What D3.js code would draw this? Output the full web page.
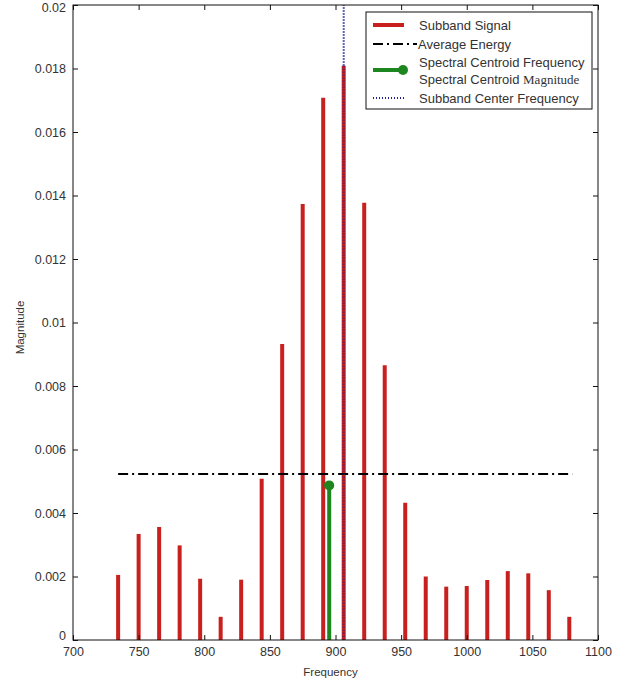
<!DOCTYPE html>
<html>
<head>
<meta charset="utf-8">
<script src="https://cdn.jsdelivr.net/npm/d3@7"></script>
<style>
  html, body { margin: 0; padding: 0; background: #fff; }
  svg { display: block; }
  text { font-family: "Liberation Sans", Arial, sans-serif; }
</style>
</head>
<body>
<script>
// ---- data ----
const frequencies = [734.375, 750, 765.625, 781.25, 796.875, 812.5, 828.125, 843.75, 859.375, 875, 890.625,
  906.25, 921.875, 937.5, 953.125, 968.75, 984.375, 1000, 1015.625, 1031.25, 1046.875, 1062.5, 1078.125];
const magnitudes = [0.00205, 0.00334, 0.00356, 0.00298, 0.00193, 0.00073, 0.0019, 0.00508, 0.00932, 0.01373, 0.01708,
  0.01809, 0.01377, 0.00865, 0.00432, 0.002, 0.00168, 0.0017, 0.00189, 0.00217, 0.0021, 0.00157, 0.00073];
const averageEnergy = 0.00523;
const centroidFrequency = 895.2;
const centroidMagnitude = 0.00487;
const centerFrequency = 906.25;
const xTicks = [700, 750, 800, 850, 900, 950, 1000, 1050, 1100];
const xTickLabels = ["700", "750", "800", "850", "900", "950", "1000", "1050", "1100"];
const yTicks = [0, 0.002, 0.004, 0.006, 0.008, 0.01, 0.012, 0.014, 0.016, 0.018, 0.02];
const yTickLabels = ["0", "0.002", "0.004", "0.006", "0.008", "0.01", "0.012", "0.014", "0.016", "0.018", "0.02"];
const legendLabels = ["Subband Signal", "Average Energy", "Spectral Centroid Frequency", "Spectral Centroid ", "Subband Center Frequency"];

// ---- layout ----
const W = 627, H = 684;
const L = 73, R = 598, T = 5, B = 640;
const svg = d3.select("body").append("svg").attr("width", W).attr("height", H);

const x = d3.scaleLinear().domain([700, 1100]).range([L, R]);
const y = d3.scaleLinear().domain([0, 0.02]).range([B, T]);

const red = "#c8201e", green = "#1e861e", navy = "#1c1c8c";
const tickColor = "#111", labelColor = "#333";

// bars (stems)
svg.append("g").selectAll("line").data(frequencies).join("line")
  .attr("x1", d => x(d)).attr("x2", d => x(d))
  .attr("y1", y(0)).attr("y2", (d, i) => y(magnitudes[i]))
  .attr("stroke", red).attr("stroke-width", 4);

// average energy line
svg.append("line")
  .attr("x1", x(frequencies[0])).attr("x2", x(frequencies[frequencies.length - 1]) + 3)
  .attr("y1", y(averageEnergy)).attr("y2", y(averageEnergy))
  .attr("stroke", "#000").attr("stroke-width", 2)
  .attr("stroke-dasharray", "10,4,2,4");

// subband center frequency (dotted): blended over the bar, solid navy above it
const centerIdx = frequencies.indexOf(centerFrequency);
const barTop = centerIdx >= 0 ? magnitudes[centerIdx] : 0;
svg.append("line")
  .attr("x1", x(centerFrequency)).attr("x2", x(centerFrequency))
  .attr("y1", y(0)).attr("y2", y(barTop))
  .attr("stroke", navy).attr("stroke-width", 2.5)
  .attr("stroke-dasharray", "1.5,1.5").attr("opacity", 0.45);
svg.append("line")
  .attr("x1", x(centerFrequency)).attr("x2", x(centerFrequency))
  .attr("y1", y(barTop)).attr("y2", y(0.02))
  .attr("stroke", navy).attr("stroke-width", 2)
  .attr("stroke-dasharray", "1.5,1.5").attr("opacity", 0.9);

// spectral centroid stem
svg.append("line")
  .attr("x1", x(centroidFrequency)).attr("x2", x(centroidFrequency))
  .attr("y1", y(0)).attr("y2", y(centroidMagnitude))
  .attr("stroke", green).attr("stroke-width", 4);
svg.append("circle")
  .attr("cx", x(centroidFrequency)).attr("cy", y(centroidMagnitude)).attr("r", 5)
  .attr("fill", green);

// frame
svg.append("rect").attr("x", L).attr("y", T).attr("width", R - L).attr("height", B - T)
  .attr("fill", "none").attr("stroke", tickColor).attr("stroke-width", 1);

// axes with inward ticks
const xAxisB = d3.axisBottom(x).tickValues(xTicks).tickSize(-5).tickPadding(8)
  .tickFormat((d, i) => xTickLabels[i]);
const gxb = svg.append("g").attr("transform", `translate(0,${B})`).call(xAxisB);
const xAxisT = d3.axisTop(x).tickValues(xTicks).tickSize(-5).tickFormat("");
const gxt = svg.append("g").attr("transform", `translate(0,${T})`).call(xAxisT);
const yAxisL = d3.axisLeft(y).tickValues(yTicks).tickSize(-5).tickPadding(6)
  .tickFormat((d, i) => yTickLabels[i]);
const gyl = svg.append("g").attr("transform", `translate(${L},0)`).call(yAxisL);
const yAxisR = d3.axisRight(y).tickValues(yTicks).tickSize(-5).tickFormat("");
const gyr = svg.append("g").attr("transform", `translate(${R},0)`).call(yAxisR);

[gxb, gxt, gyl, gyr].forEach(g => {
  g.select(".domain").remove();
  g.selectAll(".tick line").attr("stroke", tickColor);
  g.selectAll(".tick text").attr("fill", labelColor)
    .style("font-family", "'Liberation Sans', Arial, sans-serif").style("font-size", "12.5px");
});
gxb.selectAll(".tick text").attr("dy", "0.6em");
gyl.selectAll(".tick text").attr("dx", "-1");
// keep the top label inside the picture, lift the corner "0" above "700"
gyl.selectAll(".tick text").filter(d => d === 0.02).attr("dy", "0.55em");
gyl.selectAll(".tick text").filter(d => d === 0).attr("dy", "-0.05em");

// axis titles
svg.append("text").attr("x", (L + R) / 2 - 5).attr("y", 676)
  .attr("text-anchor", "middle").attr("fill", labelColor).style("font-size", "11.5px")
  .text("Frequency");
svg.append("text").attr("transform", `translate(24,${(T + B) / 2 + 5}) rotate(-90)`)
  .attr("text-anchor", "middle").attr("fill", labelColor).style("font-size", "11.5px")
  .text("Magnitude");

// legend
const lg = svg.append("g");
lg.append("rect").attr("x", 366).attr("y", 12).attr("width", 226).attr("height", 97)
  .attr("fill", "#fff").attr("stroke", tickColor).attr("stroke-width", 1);
const ly = [25, 44, 62, 79, 98];
lg.append("line").attr("x1", 373).attr("x2", 404).attr("y1", ly[0]).attr("y2", ly[0])
  .attr("stroke", red).attr("stroke-width", 4);
lg.append("line").attr("x1", 373).attr("x2", 417).attr("y1", ly[1]).attr("y2", ly[1])
  .attr("stroke", "#000").attr("stroke-width", 2).attr("stroke-dasharray", "10,4,2,4");
lg.append("line").attr("x1", 373).attr("x2", 403).attr("y1", 70).attr("y2", 70)
  .attr("stroke", green).attr("stroke-width", 4);
lg.append("circle").attr("cx", 403).attr("cy", 70).attr("r", 5).attr("fill", green);
lg.append("line").attr("x1", 373).attr("x2", 404).attr("y1", ly[4]).attr("y2", ly[4])
  .attr("stroke", navy).attr("stroke-width", 2).attr("stroke-dasharray", "1,2");

legendLabels.forEach((t, i) => {
  const tx = lg.append("text").attr("x", i === 1 ? 418 : 419).attr("y", ly[i]).attr("dy", "0.35em")
    .attr("fill", labelColor).style("font-size", "13px").text(t);
  if (i === 3) {
    tx.append("tspan").style("font-family", "'Liberation Serif', 'Times New Roman', serif")
      .style("font-size", "13px").text("Magnitude");
  }
});
</script>
</body>
</html>
